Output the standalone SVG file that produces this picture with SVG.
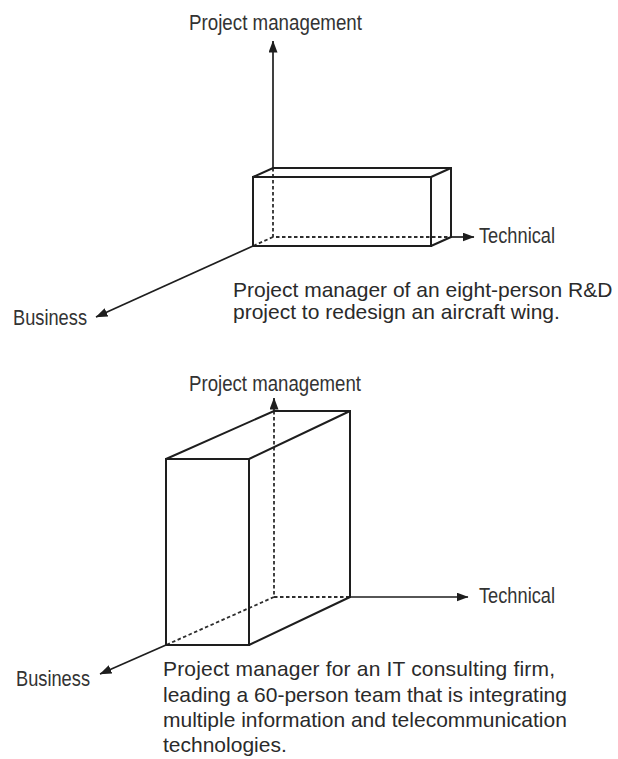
<svg xmlns="http://www.w3.org/2000/svg" width="618" height="759" viewBox="0 0 618 759">
  <defs>
    <marker id="arrow" viewBox="0 0 12 9" markerWidth="12" markerHeight="9" refX="11.5" refY="4.5" orient="auto" markerUnits="userSpaceOnUse">
      <path d="M0,0 L12,4.5 L0,9 z" fill="#1e1e1e"/>
    </marker>
    <style>
      .solid { fill: none; stroke: #1e1e1e; stroke-width: 2; stroke-linejoin: miter; }
      .hidden { fill: none; stroke: #2e2e2e; stroke-width: 1.8; stroke-dasharray: 3.5 2.5; }
      .axis { fill: none; stroke: #1e1e1e; stroke-width: 1.7; marker-end: url(#arrow); }
      .label { font-family: "Liberation Sans", Arial, sans-serif; font-size: 22.5px; fill: #333; }
      .caption { font-family: "Liberation Sans", Arial, sans-serif; font-size: 21px; fill: #2a2a2a; }
    </style>
  </defs>
  <rect width="618" height="759" fill="#ffffff"/>

  <!-- Upper chart: R&D project -->
  <g id="connectors-rd">
    <line class="axis" x1="273" y1="168" x2="273" y2="41"/>
    <line class="axis" x1="451" y1="237" x2="474" y2="237"/>
    <line class="axis" x1="253" y1="246" x2="96" y2="317"/>
  </g>
  <g id="box-rd">
    <!-- hidden edges -->
    <path class="hidden" d="M273,168 V237 H451 M273,237 L253,246"/>
    <!-- visible edges -->
    <rect class="solid" x="253" y="177" width="178" height="69"/>
    <path class="solid" d="M253,177 L273,168 H451 V237 L431,246 M431,177 L451,168"/>
  </g>
  <g id="label-rd-pm"><text class="label" x="189" y="30" textLength="173" lengthAdjust="spacingAndGlyphs">Project management</text></g>
  <g id="label-rd-tech"><text class="label" x="479" y="243" textLength="76" lengthAdjust="spacingAndGlyphs">Technical</text></g>
  <g id="label-rd-bus"><text class="label" x="13" y="325" textLength="74" lengthAdjust="spacingAndGlyphs">Business</text></g>
  <g id="caption-rd">
    <text class="caption" x="233" y="297">Project manager of an eight-person R&amp;D</text>
    <text class="caption" x="233" y="318.5">project to redesign an aircraft wing.</text>
  </g>

  <!-- Lower chart: IT consulting firm -->
  <g id="connectors-it">
    <line class="axis" x1="274" y1="411" x2="274" y2="398"/>
    <line class="axis" x1="350" y1="597" x2="468" y2="597"/>
    <line class="axis" x1="166" y1="645" x2="100" y2="674"/>
  </g>
  <g id="box-it">
    <!-- hidden edges -->
    <path class="hidden" d="M274,411 V597 H350 M274,597 L166,645"/>
    <!-- visible edges -->
    <rect class="solid" x="166" y="459" width="83" height="186"/>
    <path class="solid" d="M166,459 L274,411 H350 V597 L249,645 M249,459 L350,411"/>
  </g>
  <g id="label-it-pm"><text class="label" x="189" y="391" textLength="172" lengthAdjust="spacingAndGlyphs">Project management</text></g>
  <g id="label-it-tech"><text class="label" x="479" y="603" textLength="76" lengthAdjust="spacingAndGlyphs">Technical</text></g>
  <g id="label-it-bus"><text class="label" x="16" y="686" textLength="74" lengthAdjust="spacingAndGlyphs">Business</text></g>
  <g id="caption-it">
    <text class="caption" x="163" y="676" textLength="392" lengthAdjust="spacing">Project manager for an IT consulting firm,</text>
    <text class="caption" x="163" y="702">leading a 60-person team that is integrating</text>
    <text class="caption" x="163" y="727">multiple information and telecommunication</text>
    <text class="caption" x="163" y="752">technologies.</text>
  </g>
</svg>
